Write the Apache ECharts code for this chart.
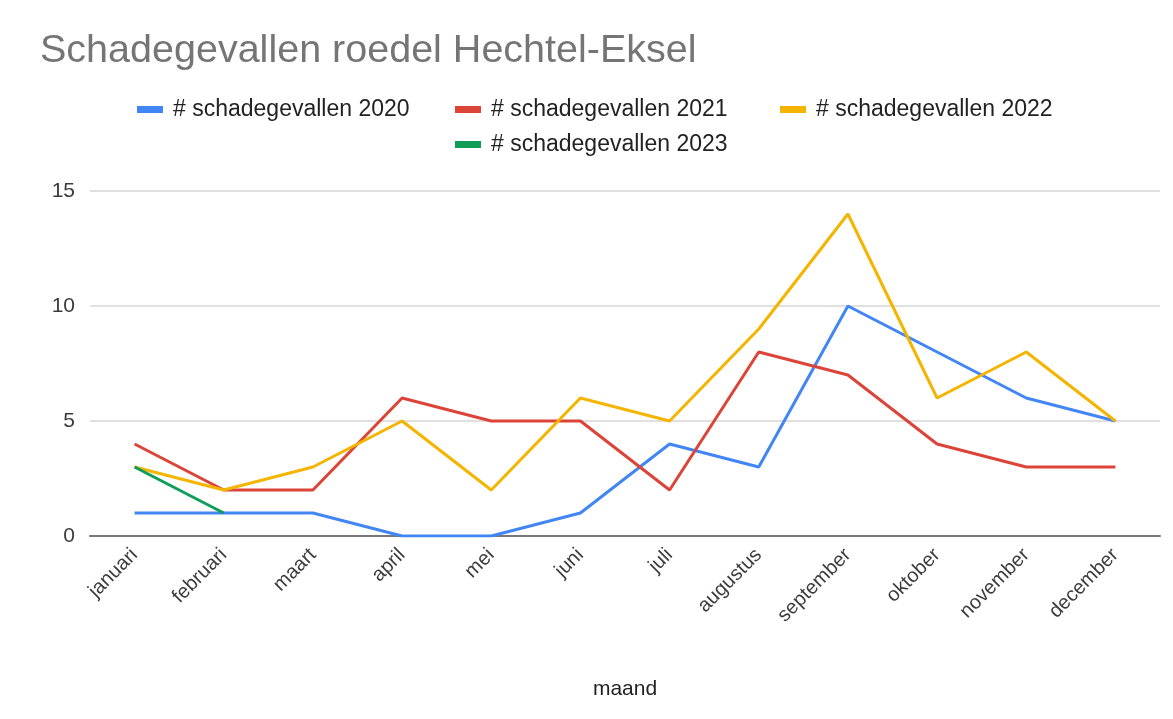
<!DOCTYPE html>
<html>
<head>
<meta charset="utf-8">
<script src="https://cdn.jsdelivr.net/npm/echarts@6/dist/echarts.min.js"></script>
<style>
html,body{margin:0;padding:0;background:#fff;}
#chart{width:1173px;height:719px;}
</style>
</head>
<body>
<div id="chart"></div>
<script>
const categories = ['januari','februari','maart','april','mei','juni','juli','augustus','september','oktober','november','december'];
const seriesNames = ['# schadegevallen 2020','# schadegevallen 2021','# schadegevallen 2022','# schadegevallen 2023'];
const values2020 = [1,1,1,0,0,1,4,3,10,8,6,5];
const values2021 = [4,2,2,6,5,5,2,8,7,4,3,3];
const values2022 = [3,2,3,5,2,6,5,9,14,6,8,5];
const values2023 = [3,1];
const yTicks = [0,5,10,15];

const colors = ['#4285F4','#DB4437','#F4B400','#0F9D58'];
const FONT = '"Liberation Sans", Arial, sans-serif';
const allValues = [values2020, values2021, values2022, values2023];

const legendPos = [[132,93],[450,93],[775,93],[450,128]];
const legends = seriesNames.map((n,i)=>({
  data:[n], left:legendPos[i][0], top:legendPos[i][1], orient:'horizontal',
  icon:'rect', itemWidth:26, itemHeight:7,
  textStyle:{fontFamily:FONT, fontSize:23, color:'#222', padding:[0,0,0,5]},
  selectedMode:false
}));

const chart = echarts.init(document.getElementById('chart'), null, {renderer:'canvas'});
chart.setOption({
  animation:false,
  color:colors,
  title:{text:'Schadegevallen roedel Hechtel-Eksel', left:35, top:26,
    textStyle:{fontFamily:FONT, fontSize:39.5, fontWeight:'normal', color:'#757575'}},
  legend:legends,
  grid:{left:90, right:13, top:191, bottom:183},
  xAxis:{type:'category', data:categories, boundaryGap:true,
    name:'maand', nameLocation:'middle', nameGap:143,
    nameTextStyle:{fontFamily:FONT, fontSize:21, color:'#222'},
    axisTick:{show:false},
    axisLine:{lineStyle:{color:'#777', width:2}},
    axisLabel:{rotate:45, fontFamily:FONT, fontSize:20, color:'#3c3c3c', margin:16, interval:0}},
  yAxis:{type:'value', min:yTicks[0], max:yTicks[yTicks.length-1], interval:5,
    axisLine:{show:false}, axisTick:{show:false},
    splitLine:{lineStyle:{color:'#d6d6d6', width:1.5}},
    axisLabel:{fontFamily:FONT, fontSize:21, color:'#3c3c3c', margin:15}},
  series:seriesNames.map((n,i)=>({
    name:n, type:'line', data:allValues[i], symbol:'none',
    lineStyle:{width:3, color:colors[i]}, itemStyle:{color:colors[i]}
  }))
});
</script>
</body>
</html>
